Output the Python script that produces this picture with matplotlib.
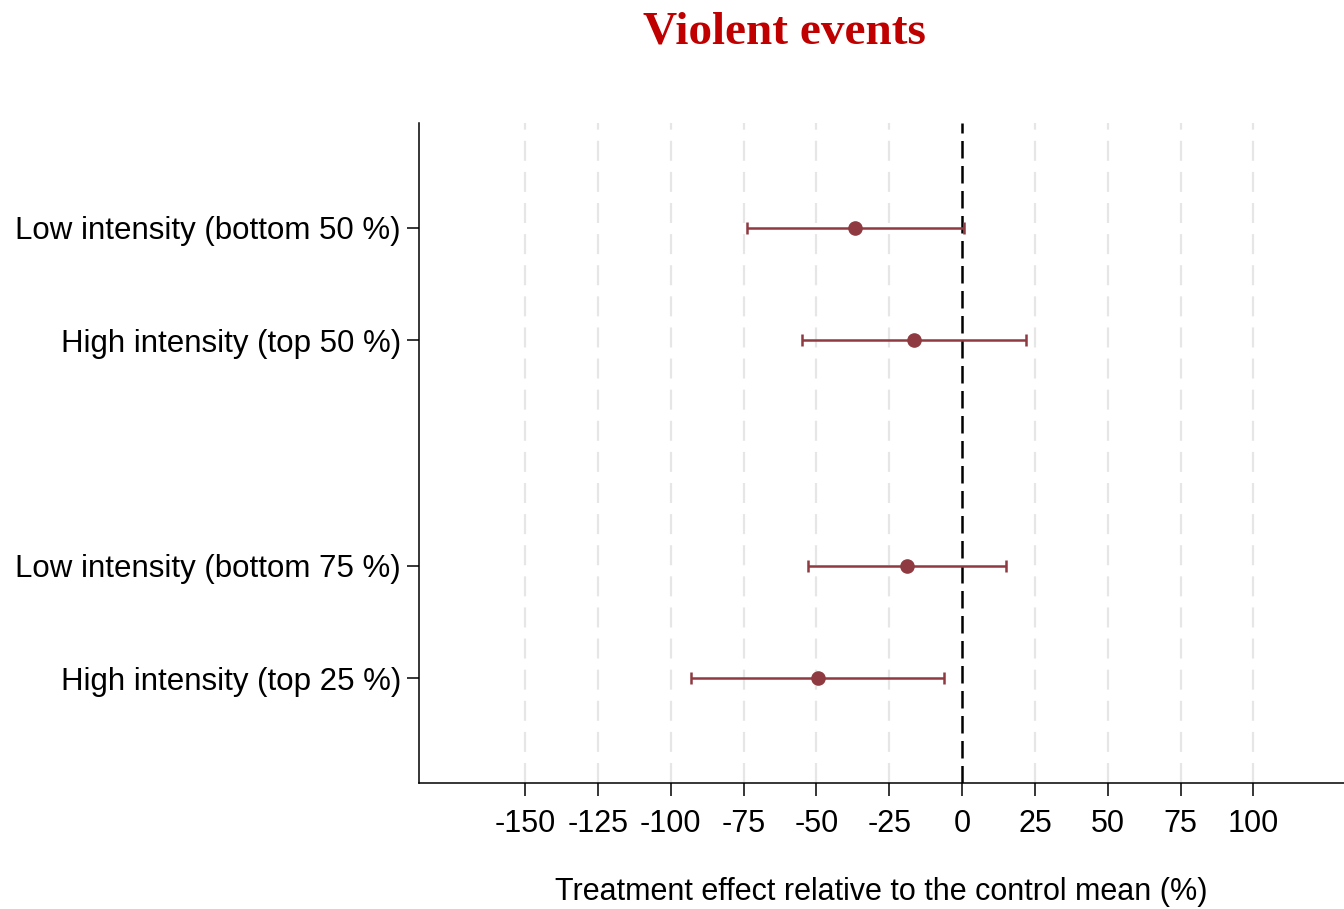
import matplotlib
matplotlib.use("Agg")
import matplotlib.pyplot as plt

# Estimates and 95% confidence intervals (% of control mean)
categories = [
    "Low intensity (bottom 50 %)",
    "High intensity (top 50 %)",
    "Low intensity (bottom 75 %)",
    "High intensity (top 25 %)",
]
row_pos = [1, 2, 4, 5]
estimates = [-36.7, -16.5, -18.9, -49.4]
ci_low = [-73.8, -54.9, -52.9, -93.0]
ci_high = [0.7, 22.0, 15.1, -6.2]
xticks = [-150, -125, -100, -75, -50, -25, 0, 25, 50, 75, 100]

plt.rcParams["font.family"] = ["Liberation Sans", "DejaVu Sans"]
point_color = "#8F3A41"

fig = plt.figure(figsize=(13.44, 9.09), dpi=100)
ax = fig.add_axes([0.3118, 0.1386, 0.6882, 0.7261])

for x in xticks:
    if x == 0:
        continue
    ax.axvline(x, color="#E6E6E6", lw=1.6, dashes=(9, 5), zorder=0)
ax.axvline(0, color="black", lw=1.8, dashes=(7, 3), zorder=1)

err_lo = [e - l for e, l in zip(estimates, ci_low)]
err_hi = [h - e for e, h in zip(estimates, ci_high)]
ax.errorbar(estimates, row_pos, xerr=[err_lo, err_hi], fmt="o",
            color=point_color, ecolor=point_color, elinewidth=1.8,
            capsize=4.5, capthick=1.8, markersize=9.5, zorder=3)

ax.set_xlim(-186.4, 131.1)
ax.set_ylim(5.93, 0.07)
ax.set_xticks(xticks)
ax.set_xticklabels([str(t) for t in xticks])
ax.set_yticks(row_pos)
ax.set_yticklabels(categories)
ax.tick_params(axis="both", labelsize=22, length=9, width=1.1, color="black")
ax.tick_params(axis="y", labelsize=22.5, pad=4)
ax.tick_params(axis="x", pad=10)

for side in ["top", "right"]:
    ax.spines[side].set_visible(False)
for side in ["left", "bottom"]:
    ax.spines[side].set_linewidth(1.1)

ax.set_xlabel("Treatment effect relative to the control mean (%)", fontsize=22, labelpad=27)

fig.text(784 / 1344, 1 - 33 / 909, "Violent events", ha="center", va="center",
         fontsize=34, fontweight="bold", color="#C00000",
         family=["Liberation Serif", "DejaVu Serif"])

fig.savefig("out.png", dpi=100)
